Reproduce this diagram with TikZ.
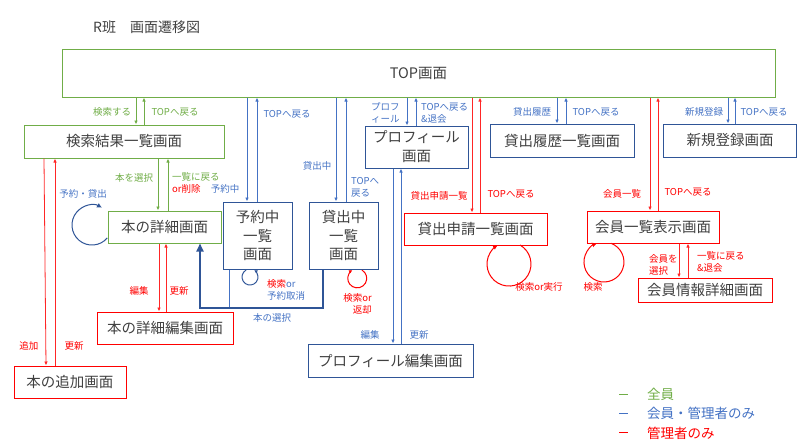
\documentclass[tikz,border=0pt]{standalone}
\usepackage{fontspec}
\setmainfont{Noto Sans CJK JP}
\usetikzlibrary{arrows.meta}
\definecolor{gr}{HTML}{70AD47}
\definecolor{bl}{HTML}{4472C4}
\definecolor{dbl}{HTML}{2F5597}
\definecolor{rd}{HTML}{FF0000}
\definecolor{tx}{HTML}{404040}
\tikzset{
  box/.style={draw, rectangle, inner sep=0pt, text=tx, align=center,
    font=\fontsize{14.5}{18.5}\selectfont, line width=1pt},
  gbox/.style={box, draw=gr},
  bbox/.style={box, draw=dbl},
  rbox/.style={box, draw=rd},
  lab/.style={inner sep=0pt, font=\fontsize{9.5}{12}\selectfont},
  gl/.style={lab, text=gr},
  bll/.style={lab, text=bl},
  rl/.style={lab, text=rd},
  tip/.style={-{Latex[length=4pt,width=3.5pt]}},
  garr/.style={draw=gr, line width=0.8pt, tip},
  barr/.style={draw=bl, line width=0.8pt, tip},
  rarr/.style={draw=rd!85, line width=0.8pt, tip},
}
\begin{document}
\begin{tikzpicture}[x=1pt,y=-1pt]
\useasboundingbox (0,0) rectangle (798,445);
% title
\node[anchor=west, inner sep=0pt, text=tx, font=\fontsize{14}{16}\selectfont] (title) at (93,27) {R班　画面遷移図};
% boxes
\node[gbox, minimum width=713, minimum height=48] (top) at (418.5,73) {TOP画面};
\node[gbox, minimum width=200, minimum height=33] (kensaku) at (124,141.5) {検索結果一覧画面};
\node[gbox, minimum width=113, minimum height=32] (shosai) at (164.5,227) {本の詳細画面};
\node[bbox, minimum width=69, minimum height=67] (yoyaku) at (257.5,235.5) {予約中\\一覧\\画面};
\node[bbox, minimum width=69, minimum height=67] (kashi) at (343.5,235.5) {貸出中\\一覧\\画面};
\node[bbox, minimum width=103, minimum height=42, font=\fontsize{14.5}{19}\selectfont] (prof) at (416.5,147) {プロフィール\\画面};
\node[bbox, minimum width=144, minimum height=33] (rireki) at (562,140.5) {貸出履歴一覧画面};
\node[bbox, minimum width=133, minimum height=33] (shinki) at (730,140.5) {新規登録画面};
\node[rbox, minimum width=143, minimum height=32] (shinsei) at (475.5,229) {貸出申請一覧画面};
\node[rbox, minimum width=132, minimum height=32] (kaiin) at (653,227) {会員一覧表示画面};
\node[rbox, minimum width=134, minimum height=24] (kshosai) at (705,290) {会員情報詳細画面};
\node[rbox, minimum width=136, minimum height=32] (henshu) at (165,328) {本の詳細編集画面};
\node[rbox, minimum width=112, minimum height=32] (tsuika) at (70,382) {本の追加画面};
\node[bbox, minimum width=165, minimum height=33] (phenshu) at (390.5,360.5) {プロフィール編集画面};

% green connectors
\draw[garr] (top.south -| 136,0) -- (kensaku.north -| 136,0);
\draw[garr] (kensaku.north -| 144,0) -- (top.south -| 144,0);
\draw[garr] (kensaku.south -| 158,0) -- (shosai.north -| 158,0);
\draw[garr] (shosai.north -| 168,0) -- (kensaku.south -| 168,0);
% red connectors
\draw[rarr] (kensaku.south -| 44,0) -- (tsuika.north -| 46,0);
\draw[rarr] (tsuika.north -| 55,0) -- (kensaku.south -| 55,0);
\draw[rarr] (shosai.south -| 159,0) -- (henshu.north -| 159,0);
\draw[rarr] (henshu.north -| 166,0) -- (shosai.south -| 166,0);
\draw[rarr] (top.south -| 472,0) -- (shinsei.north -| 472,0);
\draw[rarr] (shinsei.north -| 480,0) -- (top.south -| 480,0);
\draw[rarr] (top.south -| 650,0) -- (kaiin.north -| 650,0);
\draw[rarr] (kaiin.north -| 658,0) -- (top.south -| 658,0);
\draw[rarr] (kaiin.south -| 679,0) -- (kshosai.north -| 679,0);
\draw[rarr] (kshosai.north -| 688,0) -- (kaiin.south -| 688,0);
% blue connectors
\draw[barr] (top.south -| 247,0) -- (yoyaku.north -| 247,0);
\draw[barr] (yoyaku.north -| 257,0) -- (top.south -| 257,0);
\draw[barr] (top.south -| 336,0) -- (kashi.north -| 336,0);
\draw[barr] (kashi.north -| 346,0) -- (top.south -| 346,0);
\draw[barr] (top.south -| 407,0) -- (prof.north -| 407,0);
\draw[barr] (prof.north -| 416,0) -- (top.south -| 416,0);
\draw[barr] (prof.south -| 393,0) -- (phenshu.north -| 393,0);
\draw[barr] (phenshu.north -| 401,0) -- (prof.south -| 401,0);
\draw[barr] (top.south -| 557,0) -- (rireki.north -| 557,0);
\draw[barr] (rireki.north -| 566,0) -- (top.south -| 566,0);
\draw[barr] (top.south -| 728,0) -- (shinki.north -| 728,0);
\draw[barr] (shinki.north -| 735,0) -- (top.south -| 735,0);
% book selection (thick)
\coordinate (sel) at (200,308);
\draw[draw=bl, line width=0.8pt] (yoyaku.south -| 229,0) -- (229,308);
\draw[draw=dbl, line width=1.8pt, -{Triangle[length=8pt,width=7pt]}]
  (kashi.south -| 323,0) -- (323,308) -- (sel) -- (shosai.south -| sel);
% loops
\draw[draw=dbl, line width=1pt, -{Latex[length=5pt,width=5pt]}] (107.3,237.9) arc[start angle=40, end angle=300, radius=20];
\draw[draw=dbl, line width=1pt, -{Latex[length=3.5pt,width=3.5pt]}] (246,270.1) arc[start angle=240, end angle=-60, radius=8];
\draw[draw=rd, line width=1pt, -{Latex[length=3.5pt,width=3.5pt]}] (362,270.1) arc[start angle=-60, end angle=240, radius=9.5];
\draw[draw=rd, line width=1pt, -{Latex[length=5pt,width=5pt]}] (520,245) arc[start angle=-60, end angle=240, radius=22];
\draw[draw=rd, line width=1pt, -{Latex[length=5pt,width=5pt]}] (610.8,243.2) arc[start angle=-70, end angle=250, radius=20];

% green labels
\node[gl] (l1) at (112,112) {検索する};
\node[gl] (l2) at (175,112) {TOPへ戻る};
\node[gl] (l3) at (134,178) {本を選択};
\node[gl, anchor=west] (l4) at (172,177) {一覧に戻る};
\node[rl, anchor=west] (l5) at (172,189) {or削除};
% blue labels
\node[bll] (b1) at (83,194) {予約・貸出};
\node[bll] (b2) at (225,189) {予約中};
\node[bll] (b3) at (287,114) {TOPへ戻る};
\node[bll] (b4) at (317,166) {貸出中};
\node[bll, anchor=west, align=left] (b5) at (351,187) {TOPへ\\戻る};
\node[bll, anchor=west, align=left] (b6) at (371,113) {プロフ\\ィール};
\node[bll, anchor=west, align=left] (b7) at (421,113) {TOPへ戻る\\\&退会};
\node[bll] (b8) at (532,112) {貸出履歴};
\node[bll] (b9) at (596,112) {TOPへ戻る};
\node[bll] (b10) at (704,112) {新規登録};
\node[bll] (b11) at (764,112) {TOPへ戻る};
\node[bll, anchor=west, align=left] (b12) at (267,290) {\textcolor{rd}{検索}or\\予約取消};
\node[bll] (b13) at (370,335) {編集};
\node[bll] (b14) at (419,335) {更新};
\node[bll] (b15) at (272,318) {本の選択};
% red labels
\node[rl] (r1) at (29,346) {追加};
\node[rl] (r2) at (74,346) {更新};
\node[rl] (r3) at (139,291) {編集};
\node[rl] (r4) at (179,291) {更新};
\node[rl, anchor=east, align=right] (r5) at (372,304) {検索or\\返却};
\node[rl] (r6) at (439,196) {貸出申請一覧};
\node[rl] (r7) at (511,194) {TOPへ戻る};
\node[rl] (r8) at (539,287) {検索or実行};
\node[rl] (r9) at (622,194) {会員一覧};
\node[rl] (r10) at (688,192) {TOPへ戻る};
\node[rl, anchor=west, align=left] (r11) at (649,265) {会員を\\選択};
\node[rl, anchor=west, align=left] (r12) at (697,262) {一覧に戻る\\\&退会};
\node[rl] (r13) at (593,287) {検索};

% legend
\draw[gr, line width=0.9pt] (619,394) -- (628,394);
\draw[bl, line width=0.9pt] (619,413) -- (628,413);
\draw[rd, line width=0.9pt] (619,432) -- (628,432);
\node[anchor=west, inner sep=0pt, text=gr, font=\fontsize{13.5}{16}\selectfont] (g1) at (647,394) {全員};
\node[anchor=west, inner sep=0pt, text=bl, font=\fontsize{13.5}{16}\selectfont] (g2) at (647,413) {会員・管理者のみ};
\node[anchor=west, inner sep=0pt, text=rd, font=\fontsize{13.5}{16}\selectfont] (g3) at (647,433) {管理者のみ};
\end{tikzpicture}
\end{document}
